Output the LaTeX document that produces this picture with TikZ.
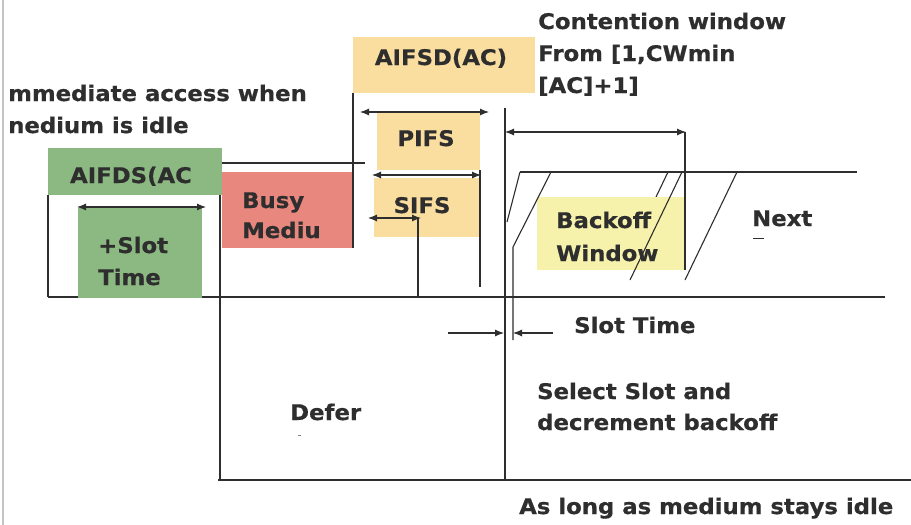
\documentclass[tikz,border=0pt]{standalone}
\usepackage{fontspec}
\setmainfont{DejaVu Sans}[FakeStretch=1.06, BoldFeatures={FakeBold=0.6}]
\usetikzlibrary{arrows.meta}
\definecolor{ink}{HTML}{2E2E2E}
\definecolor{boxgreen}{HTML}{8CB982}
\definecolor{boxred}{HTML}{E8877D}
\definecolor{boxpeach}{HTML}{FADEA0}
\definecolor{boxlemon}{HTML}{F6F2AC}
\definecolor{edgegray}{HTML}{C4C4C4}

\begin{document}
\begin{tikzpicture}[x=1pt,y=-1pt,
  lbl/.style={inner sep=0pt, anchor=base west, text=ink,
    font=\bfseries\fontsize{21.5}{32}\selectfont},
  ctr/.style={inner sep=0pt, anchor=base, text=ink,
    font=\bfseries\fontsize{21.5}{32}\selectfont},
  panel/.style={draw=none, inner sep=0pt, anchor=north west, fill=#1},
  ln/.style={draw=ink, line width=1.1pt},
  dbl/.style={ln, {Latex[length=9pt,width=7pt]}-{Latex[length=9pt,width=7pt]}},
  sgl/.style={ln, -{Latex[length=9pt,width=7pt]}},
]
\useasboundingbox (0,0) rectangle (911,525);
\fill[white] (0,0) rectangle (911,525);

% page edge
\draw[edgegray, line width=2.5pt] (3,0) -- (3,525);

% time axis and rules that sit behind the boxes
\coordinate (axL) at (48,297);
\coordinate (axR) at (885,297);
\coordinate (aTop) at (668,172);
\coordinate (aBot) at (645,220);
\draw[ln] (axL) -- (axR);
\draw[ln] (aTop) -- (aBot);

% coloured boxes
\node[panel=boxgreen, minimum width=174pt, minimum height=47pt] (aifds) at (48,148) {};
\node[panel=boxgreen, minimum width=124pt, minimum height=90pt] (slot) at (78,208) {};
\node[panel=boxred, minimum width=131pt, minimum height=76pt] (busy) at (222,172) {};
\node[panel=boxpeach, minimum width=182pt, minimum height=56pt] (aifsd) at (353,37) {};
\node[panel=boxpeach, minimum width=103pt, minimum height=57pt] (pifs) at (377,113) {};
\node[panel=boxpeach, minimum width=105pt, minimum height=59pt] (sifs) at (374,178) {};
\node[panel=boxlemon, minimum width=148pt, minimum height=73pt] (bo) at (537,197) {};

% defer region
\coordinate (dL) at (48,195);
\draw[ln] (dL) -- (axL);
\coordinate (v1t) at (220,195);
\coordinate (v1b) at (220,480);
\draw[ln] (v1t) -- (v1b);
\coordinate (btL) at (218,480);
\coordinate (btR) at (911,480);
\draw[ln] (btL) -- (btR);

% busy medium edge
\coordinate (hb1) at (222,163);
\coordinate (hb2) at (365,163);
\draw[ln] (hb1) -- (hb2);
\coordinate (v2t) at (353,93);
\coordinate (v2b) at (353,248);
\draw[ln] (v2t) -- (v2b);

% interframe spaces
\coordinate (p1) at (360,112);
\coordinate (p2) at (489,112);
\draw[dbl] (p1) -- (p2);
\coordinate (s1) at (372,175);
\coordinate (s2) at (481,175);
\draw[dbl] (s1) -- (s2);
\coordinate (v3t) at (480,170);
\coordinate (v3b) at (480,287);
\draw[ln] (v3t) -- (v3b);
\coordinate (q1) at (368,218);
\coordinate (q2) at (421,218);
\draw[dbl] (q1) -- (q2);
\coordinate (v4t) at (418,218);
\coordinate (v4b) at (418,297);
\draw[ln] (v4t) -- (v4b);

% slot time arrow above the green box
\coordinate (g1) at (77,207);
\coordinate (g2) at (206,207);
\draw[dbl] (g1) -- (g2);

% contention window
\coordinate (v5t) at (505,108);
\coordinate (v5b) at (505,480);
\draw[ln] (v5t) -- (v5b);
\coordinate (c1) at (505,132);
\coordinate (c2) at (686,132);
\draw[dbl] (c1) -- (c2);
\coordinate (v6t) at (685,132);
\coordinate (v6b) at (685,270);
\draw[ln] (v6t) -- (v6b);
\coordinate (tl1) at (520,172);
\coordinate (tl2) at (857,172);
\draw[ln] (tl1) -- (tl2);
\coordinate (k1) at (507,222);
\draw[ln] (tl1) -- (k1);
\coordinate (k2t) at (551,172);
\coordinate (k2m) at (513,247);
\coordinate (k2b) at (513,340);
\draw[ln] (k2t) -- (k2m) -- (k2b);
\coordinate (bTop) at (682,172);
\coordinate (bBot) at (630,280);
\draw[ln] (bTop) -- (bBot);
\coordinate (cTop) at (737,172);
\coordinate (cBot) at (685,280);
\draw[ln] (cTop) -- (cBot);

% slot time markers
\coordinate (st1) at (448,333);
\coordinate (st2) at (504,333);
\draw[sgl] (st1) -- (st2);
\coordinate (st3) at (553,333);
\coordinate (st4) at (513,333);
\draw[sgl] (st3) -- (st4);

% labels
\node[lbl] (cw1) at (538,29) {Contention window};
\node[lbl] (cw2) at (538,61) {From [1,CWmin};
\node[lbl] (cw3) at (538,93) {[AC]+1]};
\node[lbl] (imm1) at (8,101) {mmediate access when};
\node[lbl] (imm2) at (8,133) {nedium is idle};
\node[ctr] (t1) at (131,183) {AIFDS(AC};
\node[lbl] (t2) at (98,253) {+Slot};
\node[lbl] (t3) at (98,285) {Time};
\node[lbl] (t4) at (242,208) {Busy};
\node[lbl] (t5) at (242,238) {Mediu};
\node[ctr] (t6) at (441,65) {AIFSD(AC)};
\node[ctr] (t7) at (426,146) {PIFS};
\node[ctr] (t8) at (422,213) {SIFS};
\node[lbl] (t9) at (556,228) {Backoff};
\node[lbl] (t10) at (556,261) {Window};
\node[lbl] (t11) at (752,226) {Next};
\node[lbl] (t12) at (574,333) {Slot Time};
\node[lbl] (t13) at (537,399) {Select Slot and};
\node[lbl] (t14) at (537,430) {decrement backoff};
\node[lbl] (t15) at (290,420) {Defer};
\node[lbl] (t16) at (519,514) {As long as medium stays idle};

% stray marks
\draw[ink, line width=1pt] (753,238) -- (764,238);
\draw[ink!60, line width=1pt] (298,435) -- (301,435);
\end{tikzpicture}
\end{document}
